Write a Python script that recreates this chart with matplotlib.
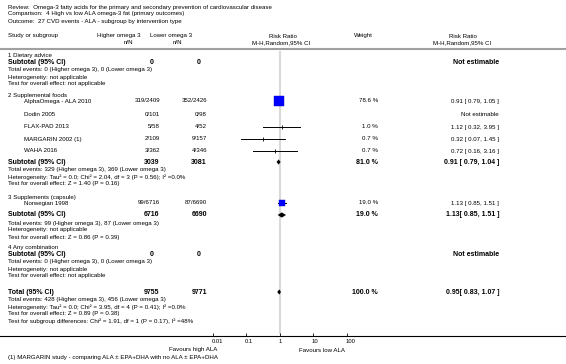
import numpy as np
import matplotlib
matplotlib.use('Agg')
import matplotlib.pyplot as plt
from matplotlib.transforms import ScaledTranslation

plt.rcParams['font.family'] = ['Liberation Sans', 'DejaVu Sans']

# ---- data ----
review = "Review:  Omega-3 fatty acids for the primary and secondary prevention of cardiovascular disease"
comparison = "Comparison:  4 High vs low ALA omega-3 fat (primary outcomes)"
outcome = "Outcome:  27 CVD events - ALA - subgroup by intervention type"

studies = ["AlphaOmega - ALA 2010", "Dodin 2005", "FLAX-PAD 2013",
           "MARGARIN 2002 (1)", "WAHA 2016", "Norwegian 1998"]
high_nN = ["319/2409", "0/101", "5/58", "2/109", "3/362", "99/6716"]
low_nN = ["352/2426", "0/98", "4/52", "9/157", "4/346", "87/6690"]
study_rr = [0.91, None, 1.12, 0.32, 0.72, 1.13]
study_lo = [0.79, None, 0.32, 0.07, 0.16, 0.85]
study_hi = [1.05, None, 3.95, 1.45, 3.16, 1.51]
study_weight = [78.6, None, 1.0, 0.7, 0.7, 19.0]

groups = ["1 Dietary advice", "2 Supplemental foods",
          "3 Supplements (capsule)", "4 Any combination"]
sub_high = ["0", "3039", "6716", "0"]
sub_low = ["0", "3081", "6690", "0"]
sub_weight = [None, 81.0, 19.0, None]
sub_rr = [None, 0.91, 1.13, None]
sub_lo = [None, 0.79, 0.85, None]
sub_hi = [None, 1.04, 1.51, None]
sub_ci_text = [None, "0.91 [ 0.79, 1.04 ]", "1.13[ 0.85, 1.51 ]", None]
sub_events = ["Total events: 0 (Higher omega 3), 0 (Lower omega 3)",
              "Total events: 329 (Higher omega 3), 369 (Lower omega 3)",
              "Total events: 99 (Higher omega 3), 87 (Lower omega 3)",
              "Total events: 0 (Higher omega 3), 0 (Lower omega 3)"]
sub_het = ["Heterogeneity: not applicable",
           "Heterogeneity: Tau\u00b2 = 0.0; Chi\u00b2 = 2.04, df = 3 (P = 0.56); I\u00b2 =0.0%",
           "Heterogeneity: not applicable",
           "Heterogeneity: not applicable"]
sub_test = ["Test for overall effect: not applicable",
            "Test for overall effect: Z = 1.40 (P = 0.16)",
            "Test for overall effect: Z = 0.86 (P = 0.39)",
            "Test for overall effect: not applicable"]

total_high, total_low = "9755", "9771"
total_weight = 100.0
total_rr, total_lo, total_hi = 0.95, 0.83, 1.07
total_ci_text = "0.95[ 0.83, 1.07 ]"
total_lines = ["Total events: 428 (Higher omega 3), 456 (Lower omega 3)",
               "Heterogeneity: Tau\u00b2 = 0.0; Chi\u00b2 = 3.95, df = 4 (P = 0.41); I\u00b2 =0.0%",
               "Test for overall effect: Z = 0.89 (P = 0.38)",
               "Test for subgroup differences: Chi\u00b2 = 1.91, df = 1 (P = 0.17), I\u00b2 =48%"]

ticks = [0.01, 0.1, 1, 10, 100]
tick_labels = ["0.01", "0.1", "1", "10", "100"]
footnote = "(1) MARGARIN study - comparing ALA \u00b1 EPA+DHA with no ALA \u00b1 EPA+DHA"

# ---- layout (pixel rows) ----
W, H = 566, 364
group_y = [56, 95, 197, 248]
study_y = [101, 114, 127, 139, 151, 203]
sub_y = [62, 162, 215, 254]
total_y = 292
axis_y = 336
x_one, decade = 280, 33.5

fs, fsb = 4.4, 5.0

fig = plt.figure(figsize=(W / 100, H / 100), dpi=100)
ax = fig.add_axes([0, 0, 1, 1])
ax.set_xlim(0, W)
ax.set_ylim(H, 0)
ax.axis('off')

# forest axes: log scale, 1 at x_one px
axf = fig.add_axes([0, (H - axis_y) / H, 1, axis_y / H])
axf.set_xscale('log')
axf.set_xlim(10 ** (-x_one / decade), 10 ** ((W - x_one) / decade))
axf.set_ylim(axis_y, 0)
axf.patch.set_alpha(0)
for s in ['top', 'left', 'right']:
    axf.spines[s].set_visible(False)
axf.spines['bottom'].set_linewidth(0.8)
axf.set_yticks([])
axf.set_xticks(ticks)
axf.set_xticklabels(tick_labels, fontsize=4.2)
axf.minorticks_off()
axf.tick_params(axis='x', which='minor', bottom=False)
axf.tick_params(axis='x', direction='in', length=2.5, width=0.6, pad=2)
for lab in axf.get_xticklabels():
    lab.set_horizontalalignment('left')
    lab.set_transform(lab.get_transform() + ScaledTranslation(-1.5 / 100, 0, fig.dpi_scale_trans))

# header
ax.text(8, 7, review, fontsize=fs, va='center')
ax.text(8, 14, comparison, fontsize=fs, va='center')
ax.text(8, 21, outcome, fontsize=fs, va='center')
ax.text(8, 36, "Study or subgroup", fontsize=fs, va='center')
ax.text(97, 36, "Higher omega 3", fontsize=fs, va='center')
ax.text(128, 43, "n/N", fontsize=fs, va='center', ha='center')
ax.text(150, 36, "Lower omega 3", fontsize=fs, va='center')
ax.text(177, 43, "n/N", fontsize=fs, va='center', ha='center')
ax.text(283, 36, "Risk Ratio", fontsize=fs, va='center', ha='center')
ax.text(281, 43, "M-H,Random,95% CI", fontsize=fs, va='center', ha='center')
ax.text(354, 36, "Weight", fontsize=fs, va='center')
ax.text(463, 36, "Risk Ratio", fontsize=fs, va='center', ha='center')
ax.text(462, 43, "M-H,Random,95% CI", fontsize=fs, va='center', ha='center')
ax.plot([0, W], [49, 49], color='#a0a0a0', lw=1.5)

# reference line at RR = 1
axf.plot([1, 1], [52, 333], color='#d9d9d9', lw=1.5, zorder=1)


def diamond(y, est, lo, hi, h=2.6):
    axf.fill([lo, est, hi, est], [y, y - h, y, y + h], color='black', lw=0, zorder=3)


group_members = [[], [0, 1, 2, 3, 4], [5], []]
for g in range(len(groups)):
    ax.text(8, group_y[g], groups[g], fontsize=fs, va='center')
    for i in group_members[g]:
        y = study_y[i]
        ax.text(24, y, studies[i], fontsize=fs, va='center')
        ax.text(160, y, high_nN[i], fontsize=fs, va='center', ha='right')
        ax.text(207, y, low_nN[i], fontsize=fs, va='center', ha='right')
        if study_rr[i] is None:
            ax.text(499, y, "Not estimable", fontsize=fs, va='center', ha='right')
            continue
        ax.text(378, y, f"{study_weight[i]:.1f} %", fontsize=fs, va='center', ha='right')
        ax.text(499, y, f"{study_rr[i]:.2f} [ {study_lo[i]:.2f}, {study_hi[i]:.2f} ]",
                fontsize=fs, va='center', ha='right')
        axf.plot([study_lo[i], study_hi[i]], [y, y], color='black', lw=0.7, zorder=2)
        if study_weight[i] >= 5:
            ms = 7.9 * np.sqrt(study_weight[i] / 78.6)
            axf.plot(study_rr[i], y, marker='s', ms=ms, color='#0000ff', mec='#0000cc',
                     mew=0.3, zorder=3)
        else:
            axf.plot(study_rr[i], y, marker='|', ms=3, color='black', mew=0.6, zorder=3)

    y = sub_y[g]
    ax.text(8, y, "Subtotal (95% CI)", fontsize=fsb, fontweight='bold', va='center')
    ax.text(152, y, sub_high[g], fontsize=fsb, fontweight='bold', va='center', ha='center')
    ax.text(199, y, sub_low[g], fontsize=fsb, fontweight='bold', va='center', ha='center')
    if sub_rr[g] is None:
        ax.text(499, y, "Not estimable", fontsize=fsb, fontweight='bold', va='center', ha='right')
    else:
        ax.text(378, y, f"{sub_weight[g]:.1f} %", fontsize=fsb, fontweight='bold',
                va='center', ha='right')
        ax.text(499, y, sub_ci_text[g], fontsize=fsb, fontweight='bold', va='center', ha='right')
        diamond(y, sub_rr[g], sub_lo[g], sub_hi[g])
    for k, line in enumerate([sub_events[g], sub_het[g], sub_test[g]]):
        ax.text(8, y + 8 + 7 * k, line, fontsize=fs, va='center')

# overall total
ax.text(8, total_y, "Total (95% CI)", fontsize=fsb, fontweight='bold', va='center')
ax.text(152, total_y, total_high, fontsize=fsb, fontweight='bold', va='center', ha='center')
ax.text(199, total_y, total_low, fontsize=fsb, fontweight='bold', va='center', ha='center')
ax.text(378, total_y, f"{total_weight:.1f} %", fontsize=fsb, fontweight='bold',
        va='center', ha='right')
ax.text(499, total_y, total_ci_text, fontsize=fsb, fontweight='bold', va='center', ha='right')
diamond(total_y, total_rr, total_lo, total_hi)
for k, line in enumerate(total_lines):
    ax.text(8, total_y + 8 + 7 * k, line, fontsize=fs, va='center')

# axis captions and footnote
ax.text(193, 350, "Favours high ALA", fontsize=fs, va='center', ha='center')
ax.text(322, 350, "Favours low ALA", fontsize=fs, va='center', ha='center')
ax.text(8, 357, footnote, fontsize=fs, va='center')

fig.savefig('out.png', dpi=100)
